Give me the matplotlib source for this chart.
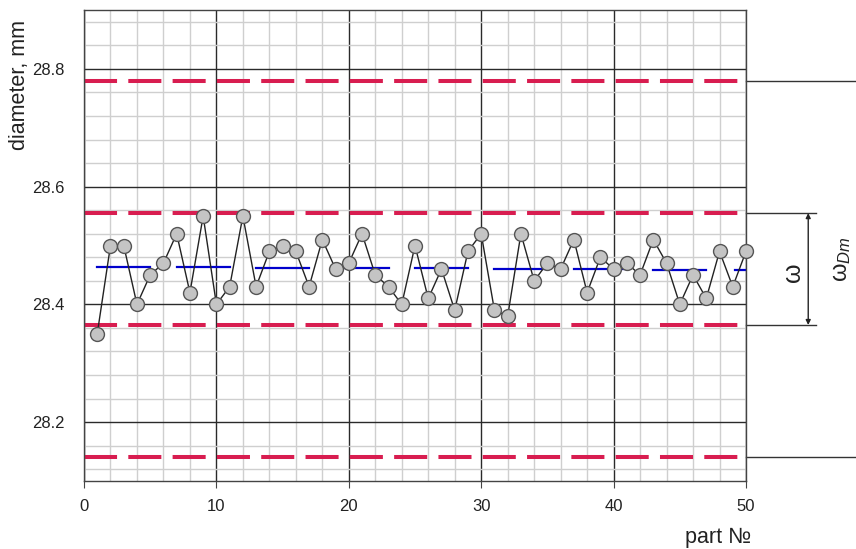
import matplotlib
matplotlib.use("Agg")
import matplotlib.pyplot as plt
from matplotlib.ticker import MultipleLocator
import numpy as np

plt.rcParams['font.family'] = ['Liberation Sans', 'DejaVu Sans']
plt.rcParams['lines.scale_dashes'] = False
plt.rcParams['mathtext.fontset'] = 'custom'
plt.rcParams['mathtext.it'] = 'Liberation Sans:italic'
plt.rcParams['mathtext.rm'] = 'Liberation Sans'

# ---- data ----
part = list(range(1, 51))
diameter = [28.35, 28.50, 28.50, 28.40, 28.45, 28.47, 28.52, 28.42, 28.55, 28.40,
            28.43, 28.55, 28.43, 28.49, 28.50, 28.49, 28.43, 28.51, 28.46, 28.47,
            28.52, 28.45, 28.43, 28.40, 28.50, 28.41, 28.46, 28.39, 28.49, 28.52,
            28.39, 28.38, 28.52, 28.44, 28.47, 28.46, 28.51, 28.42, 28.48, 28.46,
            28.47, 28.45, 28.51, 28.47, 28.40, 28.45, 28.41, 28.49, 28.43, 28.49]
mean_start = [1, 7, 13, 19.5, 25, 31, 37, 43, 49.2]
mean_end = [5, 11, 17, 23, 29, 35, 41, 47, 50]
mean_val = [28.463, 28.463, 28.462, 28.461, 28.461, 28.460, 28.460, 28.459, 28.459]
tol_outer = [28.14, 28.78]   # omega_Dm limits
tol_inner = [28.365, 28.555]  # omega limits

fig = plt.figure(figsize=(8.56, 5.49), dpi=100)
ax = fig.add_axes([84/856, 1-481/549, (746-84)/856, (481-10)/549])
ax.set_xlim(0, 50)
ax.set_ylim(28.1, 28.9)

ax.xaxis.set_major_locator(MultipleLocator(10))
ax.xaxis.set_minor_locator(MultipleLocator(2))
ax.yaxis.set_major_locator(MultipleLocator(0.2))
ax.yaxis.set_minor_locator(MultipleLocator(0.04))
ax.grid(which='minor', color='#cfcfcf', lw=1.0, zorder=0)
ax.grid(which='major', color='#2a2a2a', lw=1.0, zorder=0.5)
ax.set_axisbelow(True)

for s in ax.spines.values():
    s.set_color('#444444')
    s.set_linewidth(1.0)

ax.tick_params(axis='x', which='major', length=5, direction='out', color='#444444',
               labelsize=12, pad=8, labelcolor='#222222')
ax.tick_params(axis='y', which='major', length=0, labelsize=12, pad=14,
               labelcolor='#222222')
ax.tick_params(which='minor', length=0)
ax.set_yticks([28.2, 28.4, 28.6, 28.8])
ax.set_yticklabels(['28.2', '28.4', '28.6', '28.8'])

# tolerance dashed lines
red = '#d81d50'
for yv in tol_outer + tol_inner:
    ax.plot([0, 50], [yv, yv], color=red, lw=2.9, dashes=(23.8, 8.1),
            solid_capstyle='butt', dash_capstyle='butt', zorder=2)

# mean segments
for xs, xe, mv in zip(mean_start, mean_end, mean_val):
    ax.plot([xs, xe], [mv, mv], color='#0000cc', lw=1.6, zorder=2.5)

# data line
ax.plot(part, diameter, color='#222222', lw=1.0, marker='o', ms=10,
        mfc='#c4c4c4', mec='#555555', mew=1.0, zorder=3, clip_on=False)

# right annotations
for yv in tol_outer:
    ax.plot([50, 58.4], [yv, yv], color='#333333', lw=1.0, clip_on=False)
for yv in tol_inner:
    ax.plot([50, 55.3], [yv, yv], color='#333333', lw=1.0, clip_on=False)
ax.annotate('', xy=(54.7, tol_inner[1]), xytext=(54.7, tol_inner[0]),
            arrowprops=dict(arrowstyle='<|-|>', color='#222222', lw=1.0,
                            mutation_scale=7, shrinkA=0, shrinkB=0),
            annotation_clip=False)
ax.text(53.55, np.mean(tol_inner) - 0.006, 'ω', rotation=90, ha='center', va='center',
        fontsize=18, color='#222222')
ax.text(57.25, np.mean(tol_inner) + 0.016, r'ω$_{\mathit{Dm}}$', rotation=90,
        ha='center', va='center', fontsize=17, color='#222222')

fig.text(20/856, 1-85/549, 'diameter, mm', rotation=90, ha='center', va='center',
         fontsize=15.5, color='#222222')
fig.text(718/856, 1-537/549, 'part №', ha='center', va='center', fontsize=15.5,
         color='#222222')

fig.savefig('out.png', dpi=100)
